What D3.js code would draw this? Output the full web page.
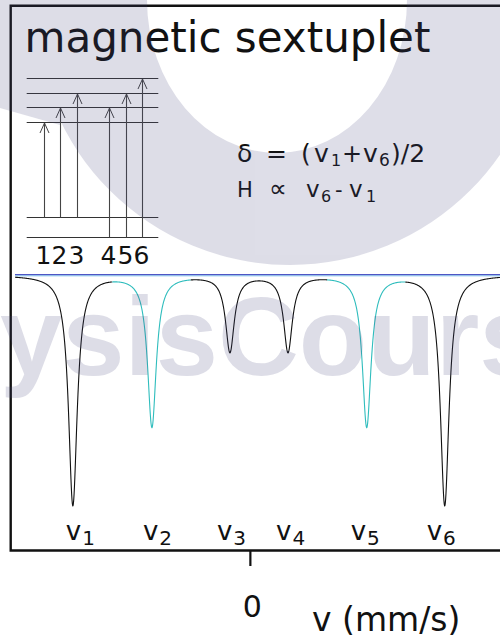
<!DOCTYPE html>
<html>
<head>
<meta charset="utf-8">
<script src="https://cdn.jsdelivr.net/npm/d3@7"></script>
<style>
  html, body { margin: 0; padding: 0; background: #fff; }
  svg { display: block; font-family: "DejaVu Sans", Verdana, sans-serif; }
</style>
</head>
<body>
<svg id="chart" width="500" height="641"></svg>
<script>
// ---- Sextet lines: velocity (mm/s), fractional absorption, colour ----
const lineNames = ["1", "2", "3", "4", "5", "6"];
const lineVelocity = [-5.06, -2.80, -0.57, 1.09, 3.34, 5.57];
const lineDepth = [0.230, 0.151, 0.076, 0.076, 0.151, 0.230];
const lineHWHM = 0.15;                       // Lorentzian half width, mm/s
const lineColor = ["#111111", "#2fbdbd", "#111111", "#111111", "#2fbdbd", "#111111"];
const velocityTicks = [0];

// ---- Level scheme: ground doublet and excited quartet (energy in level spacings) ----
const groundEnergy = [0, 1.38];
const excitedEnergy = [7.93, 8.93, 9.93, 10.93];
// each transition: [ground index, excited index]
const transitions = [[1, 0], [1, 1], [1, 2], [0, 1], [0, 2], [0, 3]];
const transitionSlots = ["1", "2", "3", "gap", "4", "5", "6"];

const svg = d3.select("#chart");

// ---- scales ----
const x = d3.scaleLinear().domain([-6.8, 7.15]).range([12, 500]);
const y = d3.scaleLinear().domain([0.7, 1.0]).range([575, 275]);

// ---- spectrum: sum of Lorentzian absorption lines ----
function transmission(v) {
  let t = 1;
  for (let i = 0; i < lineVelocity.length; i++) {
    const d = v - lineVelocity[i];
    t -= lineDepth[i] * (lineHWHM * lineHWHM) / (d * d + lineHWHM * lineHWHM);
  }
  return t;
}
const vStart = x.invert(15), vEnd = x.invert(501);
const samples = d3.range(vStart, vEnd, 0.01).concat(lineVelocity).sort((a, b) => a - b);
function nearestLine(v) {
  let best = 0;
  for (let i = 1; i < lineVelocity.length; i++)
    if (Math.abs(v - lineVelocity[i]) < Math.abs(v - lineVelocity[best])) best = i;
  return best;
}
// split the curve into runs that share the nearest line's colour
const runs = [];
samples.forEach(v => {
  const k = lineColor[nearestLine(v)];
  const p = { v, t: transmission(v) };
  const last = runs[runs.length - 1];
  if (!last || last.color !== k) {
    runs.push({ color: k, pts: last ? [last.pts[last.pts.length - 1], p] : [p] });
  } else last.pts.push(p);
});

// baseline (100% transmission)
svg.append("line")
  .attr("x1", x(vStart)).attr("x2", 500)
  .attr("y1", y(1) - 0.4).attr("y2", y(1) - 0.4)
  .attr("stroke", "#4f56c4").attr("stroke-width", 1.3);
svg.append("line")
  .attr("x1", x(vStart)).attr("x2", 500)
  .attr("y1", y(1) + 0.8).attr("y2", y(1) + 0.8)
  .attr("stroke", "#6fb4e6").attr("stroke-width", 0.9);

const line = d3.line().x(d => x(d.v)).y(d => y(d.t));
svg.append("g").selectAll("path").data(runs).join("path")
  .attr("d", d => line(d.pts))
  .attr("fill", "none")
  .attr("stroke", d => d.color)
  .attr("stroke-width", 1.1);

// ---- frame (open on the right) and velocity axis ----
svg.append("path")
  .attr("d", "M500,5.7H10.7V550.5H500")
  .attr("fill", "none").attr("stroke", "#111").attr("stroke-width", 2.4);

const axis = d3.axisBottom(x).tickValues(velocityTicks).tickSize(15).tickPadding(30)
  .tickFormat(d3.format("d"));
const ax = svg.append("g").attr("transform", "translate(0,551)").call(axis);
ax.select(".domain").remove();
ax.selectAll(".tick line").attr("stroke", "#111").attr("stroke-width", 2.2);
ax.selectAll(".tick text")
  .attr("font-family", "'DejaVu Sans', Verdana, sans-serif")
  .attr("font-size", 30).attr("fill", "#111").attr("dx", 2);

svg.append("text").attr("x", 312).attr("y", 631)
  .attr("font-size", 33).attr("fill", "#111").text("v (mm/s)");

// ---- line labels v1..v6 ----
const labelShift = [-7, -9, -13, -12, -16, -18];
const lab = svg.append("g");
lineNames.forEach((n, i) => {
  const t = lab.append("text")
    .attr("x", x(lineVelocity[i]) + labelShift[i]).attr("y", 539.5)
    .attr("font-size", 26).attr("fill", "#111");
  t.append("tspan").text("v");
  t.append("tspan").attr("font-size", 20).attr("dy", 5.5).attr("dx", 1).text(n);
});

// ---- title ----
svg.append("text").attr("x", 24.5).attr("y", 52)
  .attr("font-size", 42).attr("fill", "#111").text("magnetic sextuplet");

// ---- level scheme ----
const eY = d3.scaleLinear().domain([0, 10.93]).range([236.7, 78.3]);
const slot = d3.scalePoint().domain(transitionSlots).range([44, 141.8]);
const scheme = svg.append("g");
groundEnergy.concat(excitedEnergy).forEach(e => {
  scheme.append("line")
    .attr("x1", 26.7).attr("x2", 158.3)
    .attr("y1", Math.round(eY(e)) + 0.5).attr("y2", Math.round(eY(e)) + 0.5)
    .attr("stroke", "#333").attr("stroke-width", 1);
});
transitions.forEach(([g, e], i) => {
  const cx = Math.round(slot(lineNames[i])) + 0.5;
  const y0 = Math.round(eY(groundEnergy[g])) + 0.5;
  const y1 = Math.round(eY(excitedEnergy[e])) + 1;
  scheme.append("line").attr("x1", cx).attr("x2", cx).attr("y1", y0).attr("y2", y1)
    .attr("stroke", "#444").attr("stroke-width", 1.1);
  scheme.append("path")
    .attr("d", `M${cx - 4.5},${y1 + 10}L${cx},${y1}L${cx + 4.5},${y1 + 10}`)
    .attr("fill", "none").attr("stroke", "#444").attr("stroke-width", 1);
  scheme.append("text").attr("x", cx - 1).attr("y", 263.5)
    .attr("text-anchor", "middle").attr("font-size", 25).attr("fill", "#111")
    .text(lineNames[i]);
});

// ---- relations (one text per line, pieces placed as tspans) ----
function formula(parts, baseline) {
  const t = svg.append("text").attr("y", baseline).attr("fill", "#111");
  parts.forEach(p => {
    t.append("tspan").attr("x", p.x).attr("y", baseline + (p.sub ? 4.5 : 0))
      .attr("font-size", p.size).text(p.s);
  });
}
formula([
  { s: "\u03b4", x: 237, size: 25 },
  { s: "=", x: 266, size: 25 },
  { s: "(", x: 301, size: 25 },
  { s: "v", x: 314, size: 25 },
  { s: "1", x: 331, size: 16, sub: true },
  { s: "+", x: 342, size: 24 },
  { s: "v", x: 363, size: 25 },
  { s: "6", x: 379, size: 17, sub: true },
  { s: ")/2", x: 391, size: 25 }
], 161.7);
formula([
  { s: "H", x: 237, size: 21 },
  { s: "\u221d", x: 269, size: 25 },
  { s: "v", x: 306, size: 23 },
  { s: "6", x: 321, size: 16, sub: true },
  { s: "-", x: 335, size: 21 },
  { s: "v", x: 349, size: 23 },
  { s: "1", x: 366, size: 16, sub: true }
], 197.3);

// ---- faint logo, drawn translucently over the chart ----
const mark = svg.append("g").attr("opacity", 0.18).attr("fill", "rgb(70,70,125)");
// ring: circular outer edge with an elliptical opening (evenodd)
const ringPath = d3.path();
ringPath.arc(290, 10, 255, 0, 2 * Math.PI);
const ex = 277, ey = 0, rx = 130, ry = 153;
const ringD = ringPath.toString() +
  `M${ex + rx},${ey}A${rx},${ry} 0 1 0 ${ex - rx},${ey}A${rx},${ry} 0 1 0 ${ex + rx},${ey}Z`;
mark.append("path").attr("d", ringD).attr("fill-rule", "evenodd");
mark.append("path").attr("d", "M0,0H60V125L0,108Z");
mark.append("text").attr("x", 0).attr("y", 375)
  .attr("font-family", "'Liberation Sans', Arial, sans-serif").attr("font-weight", "bold")
  .attr("font-size", 112).text("ysisCours");
</script>
</body>
</html>
